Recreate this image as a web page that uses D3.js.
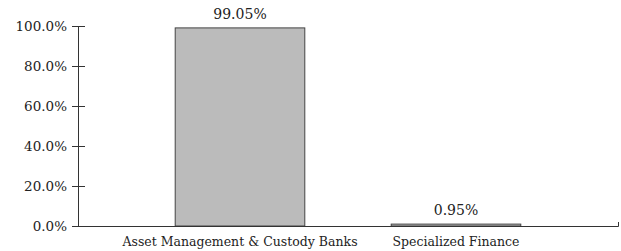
<!DOCTYPE html>
<html>
<head>
<meta charset="utf-8">
<script src="https://cdn.jsdelivr.net/npm/d3@7"></script>
<style>
  body { margin: 0; background: #fff; }
  text { font-family: "DejaVu Serif", Georgia, serif; fill: #222; }
</style>
</head>
<body>
<script>
let w = 621;
let h = 251;
let categories = ["Asset Management & Custody Banks", "Specialized Finance"];
let values = [99.05, 0.95];
let tickValues = [0, 20, 40, 60, 80, 100];

let margin = { left: 78, right: 3, top: 26, bottom: 25 };
let svg = d3.select("body").append("svg").attr("width", w).attr("height", h);

let x = d3.scaleBand()
  .domain(categories)
  .range([margin.left, w - margin.right])
  .paddingInner(0.4)
  .paddingOuter(0.45);

let y = d3.scaleLinear()
  .domain([0, 100])
  .range([h - margin.bottom, margin.top]);

// bars
svg.selectAll("rect.bar")
  .data(values)
  .enter()
  .append("rect")
  .attr("class", "bar")
  .attr("x", (d, i) => x(categories[i]))
  .attr("y", d => y(d))
  .attr("width", x.bandwidth())
  .attr("height", d => Math.max(y(0) - y(d), 1))
  .attr("fill", "#bbbbbb")
  .attr("stroke", "#444")
  .attr("stroke-width", 1);

// value labels
svg.selectAll("text.val")
  .data(values)
  .enter()
  .append("text")
  .attr("class", "val")
  .text(d => d.toFixed(2) + "%")
  .attr("text-anchor", "middle")
  .attr("x", (d, i) => x(categories[i]) + x.bandwidth() / 2)
  .attr("y", d => y(d) - 9)
  .attr("font-size", 14);

// y axis
let yAxis = svg.append("g")
  .attr("transform", `translate(${margin.left},0)`)
  .call(d3.axisLeft(y).tickValues(tickValues).tickSize(6).tickSizeOuter(0).tickFormat(d => d.toFixed(1) + "%"));
yAxis.select(".domain").attr("stroke", "#333");
yAxis.selectAll(".tick line").attr("x2", 7).attr("x1", -6).attr("stroke", "#333");
yAxis.selectAll(".tick text").attr("x", -11).attr("font-size", 13.5).attr("font-family", null).attr("fill", "#222");

// x axis
let xAxis = svg.append("g")
  .attr("transform", `translate(0,${y(0)})`)
  .call(d3.axisBottom(x).tickSize(0).tickSizeOuter(-4));
xAxis.select(".domain").attr("stroke", "#333");
xAxis.selectAll(".tick text").attr("y", 20).attr("dy", 0).attr("font-size", 12.5).attr("font-family", null).attr("fill", "#222");
</script>
</body>
</html>
